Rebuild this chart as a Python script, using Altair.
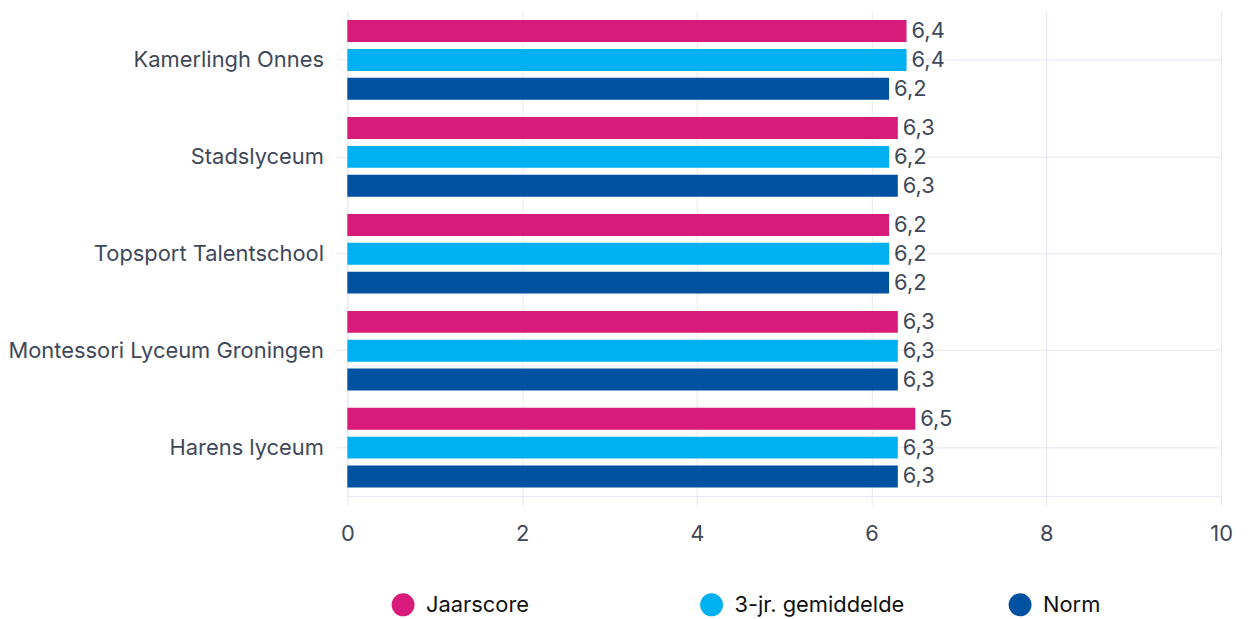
import altair as alt
import pandas as pd

schools = ["Kamerlingh Onnes", "Stadslyceum", "Topsport Talentschool",
           "Montessori Lyceum Groningen", "Harens lyceum"]
series = ["Jaarscore", "3-jr. gemiddelde", "Norm"]
jaarscore = [6.4, 6.3, 6.2, 6.3, 6.5]
gemiddelde = [6.4, 6.2, 6.2, 6.3, 6.3]
norm = [6.2, 6.3, 6.2, 6.3, 6.3]
colors = ["#D81B7B", "#00B0F0", "#0052A0"]
x_ticks = [0, 2, 4, 6, 8, 10]

rows = []
for i, s in enumerate(schools):
    for name, vals in zip(series, [jaarscore, gemiddelde, norm]):
        rows.append({"school": s, "serie": name, "waarde": vals[i]})
df = pd.DataFrame(rows)

FONT = "Inter"
FS = 22
AXIS_COLOR = "#3E4859"
GRID = "#E4E7F3"

base = alt.Chart(df).transform_calculate(
    label="replace(format(datum.waarde, '.1f'), '.', ',')"
)

y_enc = alt.Y("school:N", sort=schools, title=None,
              scale=alt.Scale(paddingInner=0, paddingOuter=0),
              axis=alt.Axis(bandPosition=0.5, grid=True, gridColor=GRID,
                            domainColor=GRID, tickColor=GRID, tickSize=11,
                            labelPadding=13, labelFontSize=FS, labelFont=FONT,
                            labelFontWeight=400,
                            labelColor=AXIS_COLOR, labelLimit=400))
yoff = alt.YOffset("serie:N", sort=series,
                   scale=alt.Scale(paddingInner=0.24, paddingOuter=0.3))

bars = base.mark_bar().encode(
    x=alt.X("waarde:Q", title=None,
            scale=alt.Scale(domain=[0, 10], nice=False),
            axis=alt.Axis(values=x_ticks, format="d", grid=True, gridColor=GRID,
                          domainColor=GRID, tickColor=GRID, tickSize=9,
                          labelFlush=False, labelFontWeight=400,
                          labelPadding=19, labelFontSize=FS, labelFont=FONT,
                          labelColor=AXIS_COLOR)),
    y=y_enc,
    yOffset=yoff,
    color=alt.Color("serie:N", sort=series,
                    scale=alt.Scale(domain=series, range=colors),
                    legend=alt.Legend(title=None, orient="none", direction="horizontal",
                                      columns=3, gridAlign="all", columnPadding=104,
                                      legendX=44, legendY=584,
                                      symbolType="circle", symbolSize=530,
                                      symbolStrokeWidth=0, symbolOpacity=1,
                                      labelFont=FONT, labelFontSize=FS,
                                      labelFontWeight=400, labelLimit=400,
                                      labelColor="#111111", labelOffset=11)),
)

texts = base.mark_text(align="left", baseline="middle", dx=5,
                       font=FONT, fontSize=FS, fontWeight=400,
                       color=AXIS_COLOR).encode(
    x="waarde:Q",
    y=alt.Y("school:N", sort=schools),
    yOffset=yoff,
    text="label:N",
)

chart = (bars + texts).properties(
    width=878, height=487,
    background="white",
    autosize=alt.AutoSizeParams(type="none"),
    padding={"left": 341, "top": 2, "right": 20, "bottom": 120},
).configure_view(strokeWidth=0)

chart.save("out.html", embed_options={"renderer": "svg", "actions": False})
